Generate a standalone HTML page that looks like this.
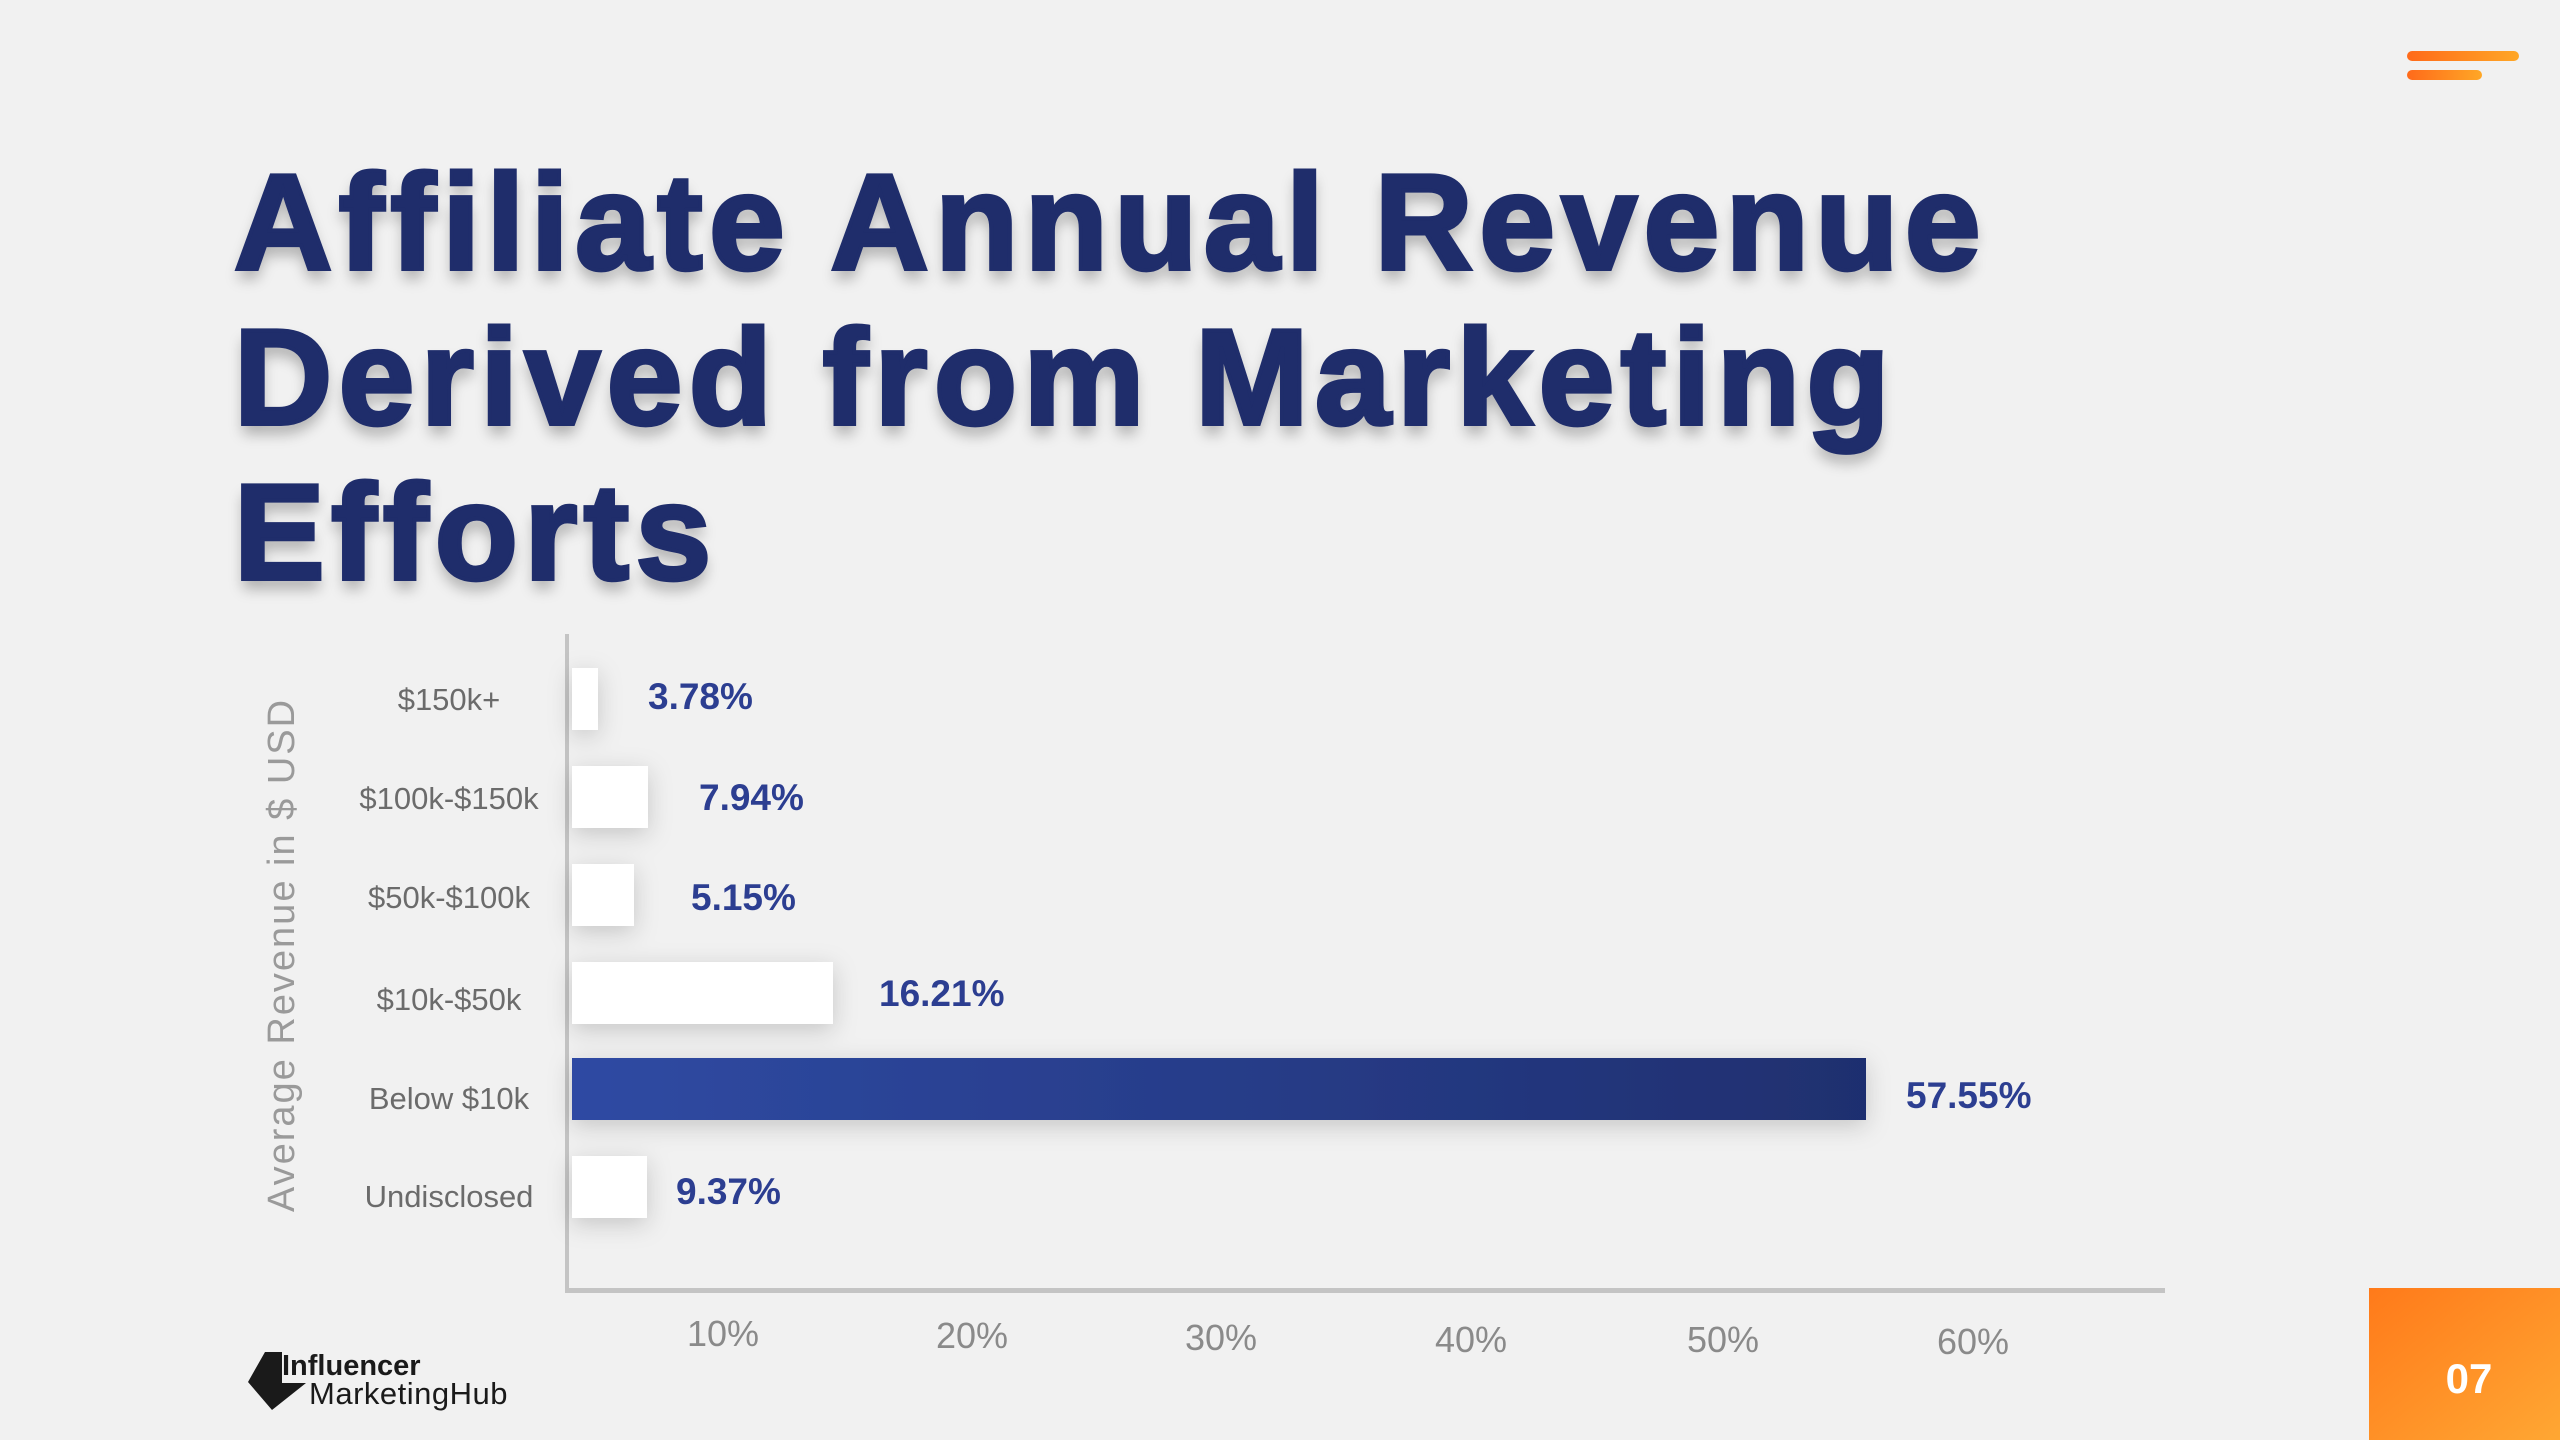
<!DOCTYPE html>
<html><head><meta charset="utf-8"><style>
html,body{margin:0;padding:0;background:#f1f1f1;}
.wrap{position:relative;width:2560px;height:1440px;overflow:hidden;background:#f1f1f1;font-family:"Liberation Sans",sans-serif;}
.t{position:absolute;left:234px;font-weight:bold;font-size:136px;line-height:155px;color:#1f2d6b;letter-spacing:6.5px;-webkit-text-stroke:4px #1f2d6b;white-space:nowrap;text-shadow:0 10px 14px rgba(0,0,0,0.28);}
</style></head><body><div class="wrap">
<div class="t" style="top:145px">Affiliate Annual Revenue</div>
<div class="t" style="top:300px">Derived from Marketing</div>
<div class="t" style="top:455px">Efforts</div>
<svg width="2560" height="1440" style="position:absolute;left:0;top:0">
<defs>
<linearGradient id="og" x1="0" x2="1"><stop offset="0" stop-color="#ff6a1a"/><stop offset="1" stop-color="#ffa726"/></linearGradient>
<linearGradient id="bg" x1="0" x2="1"><stop offset="0" stop-color="#2f4aa3"/><stop offset="1" stop-color="#1f2f6f"/></linearGradient>
<linearGradient id="box" x1="0" y1="0" x2="1" y2="1"><stop offset="0" stop-color="#ff7a1a"/><stop offset="1" stop-color="#ffa733"/></linearGradient>
<filter id="sh" x="-20%" y="-80%" width="140%" height="260%"><feDropShadow dx="0" dy="6" stdDeviation="12" flood-color="#000" flood-opacity="0.18"/></filter>
</defs>
<rect x="2407" y="51" width="112" height="10" rx="5" fill="url(#og)"/>
<rect x="2407" y="70" width="75" height="10" rx="5" fill="url(#og)"/>
<rect x="565" y="634" width="4" height="658" fill="#c4c4c4"/>
<rect x="565" y="1288" width="1600" height="5" fill="#c4c4c4"/>
<g filter="url(#sh)">
<rect x="572" y="668" width="26" height="62" fill="#fff"/>
<rect x="572" y="766" width="76" height="62" fill="#fff"/>
<rect x="572" y="864" width="62" height="62" fill="#fff"/>
<rect x="572" y="962" width="261" height="62" fill="#fff"/>
<rect x="572" y="1058" width="1294" height="62" fill="url(#bg)"/>
<rect x="572" y="1156" width="75" height="62" fill="#fff"/>
</g>
<g font-family="Liberation Sans,sans-serif" font-weight="bold" font-size="37" fill="#2c3e91">
<text x="648" y="709">3.78%</text>
<text x="699" y="810">7.94%</text>
<text x="691" y="910">5.15%</text>
<text x="879" y="1006">16.21%</text>
<text x="1906" y="1108">57.55%</text>
<text x="676" y="1204">9.37%</text>
</g>
<g font-family="Liberation Sans,sans-serif" font-size="31" fill="#6b6b6b" text-anchor="middle">
<text x="449" y="710">$150k+</text>
<text x="449" y="809">$100k-$150k</text>
<text x="449" y="908">$50k-$100k</text>
<text x="449" y="1010">$10k-$50k</text>
<text x="449" y="1109">Below $10k</text>
<text x="449" y="1207">Undisclosed</text>
</g>
<text transform="translate(294,955) rotate(-90)" text-anchor="middle" font-family="Liberation Sans,sans-serif" font-size="38" fill="#9a9a9a" letter-spacing="2">Average Revenue in $ USD</text>
<g font-family="Liberation Sans,sans-serif" font-size="36" fill="#8a8a8a" text-anchor="middle">
<text x="723" y="1346">10%</text>
<text x="972" y="1348">20%</text>
<text x="1221" y="1350">30%</text>
<text x="1471" y="1352">40%</text>
<text x="1723" y="1352">50%</text>
<text x="1973" y="1354">60%</text>
</g>
<polygon points="265,1352 282,1352 282,1383 306,1383 272,1410 248,1382" fill="#1a1a1a"/>
<text x="282" y="1375" font-family="Liberation Sans,sans-serif" font-weight="bold" font-size="29" fill="#1a1a1a">Influencer</text>
<text x="309" y="1404" font-family="Liberation Sans,sans-serif" font-size="31" fill="#1a1a1a" letter-spacing="0.5">MarketingHub</text>
<rect x="2369" y="1288" width="191" height="152" fill="url(#box)"/>
<text x="2469" y="1393" text-anchor="middle" font-family="Liberation Sans,sans-serif" font-weight="bold" font-size="42" fill="#fff">07</text>
</svg>
</div></body></html>
